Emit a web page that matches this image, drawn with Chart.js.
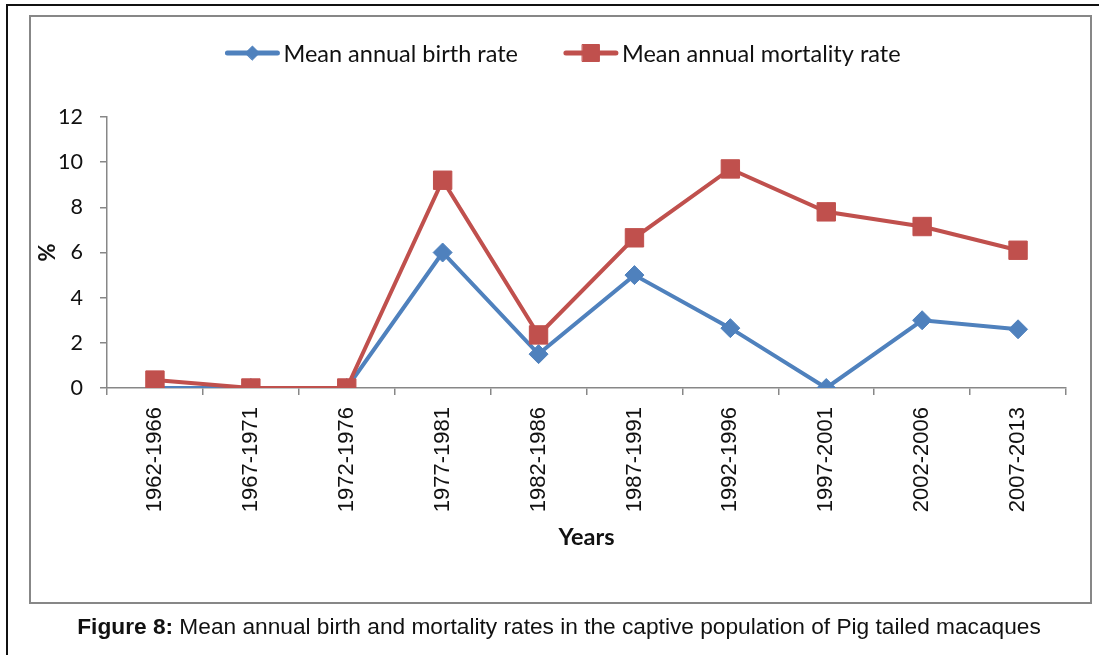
<!DOCTYPE html>
<html>
<head>
<meta charset="utf-8">
<script src="https://cdn.jsdelivr.net/npm/chart.js@4"></script>
<style>
  body { margin: 0; background: #fff; }
  #page { position: relative; width: 1099px; height: 655px; overflow: hidden; }
  #outer { position: absolute; left: 6px; top: 4px; width: 1200px; height: 800px; border: 2px solid #111; }
  #box { position: absolute; left: 29px; top: 15px; width: 1059px; height: 585px; border: 2px solid #878787; }
  #chart { position: absolute; left: 0; top: 0; }
  #caption { position: absolute; left: 0; width: 1118px; top: 613px; text-align: center;
    font-family: "Liberation Sans", sans-serif; font-size: 22.7px; color: #111; }
</style>
</head>
<body>
<div id="page">
  <div id="outer"></div>
  <div id="box"></div>
  <canvas id="chart" width="1099" height="655"></canvas>
  <div id="caption"><b>Figure 8:</b> Mean annual birth and mortality rates in the captive population of Pig tailed macaques</div>
</div>
<script>
const periods = ['1962-1966', '1967-1971', '1972-1976', '1977-1981', '1982-1986',
                 '1987-1991', '1992-1996', '1997-2001', '2002-2006', '2007-2013'];
const birthRate = [0, 0, 0, 6.0, 1.5, 5.0, 2.65, 0, 3.0, 2.6];
const mortalityRate = [0.35, 0, 0, 9.2, 2.35, 6.65, 9.7, 7.8, 7.15, 6.1];
const yTicks = [0, 2, 4, 6, 8, 10, 12];

const blue = '#4f81bd';
const red = '#c0504d';

// excel style legend: short line with the marker in the middle
const lineLegend = {
    id: 'lineLegend',
    afterDraw(chart) {
        const ctx = chart.ctx;
        const cy = 53, lineW = 54, gap = 4, itemGap = 46, centerX = 563;
        const font = '23.5px Lato';
        ctx.save();
        ctx.font = font;
        const items = chart.data.datasets.map(ds => ({ ds, w: lineW + gap + ctx.measureText(ds.label).width }));
        const total = items.reduce((s, it) => s + it.w, 0) + itemGap * (items.length - 1);
        let x = centerX - total / 2;
        items.forEach(({ ds, w }) => {
            ctx.strokeStyle = ds.borderColor;
            ctx.lineWidth = 5;
            ctx.lineCap = 'round';
            ctx.beginPath();
            ctx.moveTo(x + 2, cy);
            ctx.lineTo(x + lineW - 2, cy);
            ctx.stroke();
            ctx.fillStyle = ds.borderColor;
            ctx.lineWidth = 1;
            Chart.helpers.drawPoint(ctx, {
                pointStyle: ds.pointStyle, radius: ds.legendRadius, borderWidth: 1
            }, x + lineW / 2, cy);
            ctx.font = font;
            ctx.textBaseline = 'middle';
            ctx.fillStyle = '#111';
            ctx.fillText(ds.label, x + lineW + gap, cy + 1);
            x += w + itemGap;
        });
        ctx.restore();
    }
};

new Chart(document.getElementById('chart'), {
    type: 'line',
    data: {
        labels: periods,
        datasets: [{
            label: 'Mean annual birth rate',
            data: birthRate,
            borderColor: blue,
            backgroundColor: blue,
            pointBackgroundColor: blue,
            pointBorderColor: blue,
            borderWidth: 4,
            pointStyle: 'rectRot',
            pointRadius: 9.5,
            legendRadius: 7,
            pointBorderWidth: 1,
            tension: 0,
            order: 2
        }, {
            label: 'Mean annual mortality rate',
            data: mortalityRate,
            borderColor: red,
            backgroundColor: red,
            pointBackgroundColor: red,
            pointBorderColor: red,
            borderWidth: 4,
            pointStyle: 'rect',
            pointRadius: 13,
            legendRadius: 12,
            pointBorderWidth: 1,
            tension: 0,
            order: 1
        }]
    },
    options: {
        responsive: false,
        devicePixelRatio: 1,
        animation: false,
        layout: { padding: { left: 30, top: 117, right: 33, bottom: 97 } },
        plugins: {
            legend: { display: false },
            tooltip: { enabled: false }
        },
        scales: {
            x: {
                offset: true,
                grid: { offset: true, drawOnChartArea: false, drawTicks: true, tickLength: 7, color: '#878787', lineWidth: 1.5 },
                border: { color: '#878787', width: 1.5 },
                ticks: {
                    minRotation: 90, maxRotation: 90, padding: 12,
                    color: '#111',
                    font: { family: 'Liberation Sans', size: 22 }
                },
                title: {
                    display: true, text: 'Years', color: '#111',
                    font: { family: 'Lato', size: 23.5, weight: 'bold' },
                    padding: { top: 0, bottom: 6 }
                },
                afterFit(scale) { scale.height = 170; }
            },
            y: {
                min: 0, max: 12,
                grid: { drawOnChartArea: false, drawTicks: true, tickLength: 7, color: '#878787', lineWidth: 1.5 },
                border: { color: '#878787', width: 1.5 },
                afterBuildTicks(scale) { scale.ticks = yTicks.map(v => ({ value: v })); },
                ticks: {
                    padding: 17, color: '#111',
                    font: { family: 'Lato', size: 21.5 }
                },
                title: {
                    display: true, text: '%', color: '#111',
                    font: { family: 'Lato', size: 22, weight: 'bold' },
                    padding: { top: 5, bottom: 0 }
                },
                afterFit(scale) { scale.width = 77; }
            }
        }
    },
    plugins: [lineLegend]
});
</script>
</body>
</html>
